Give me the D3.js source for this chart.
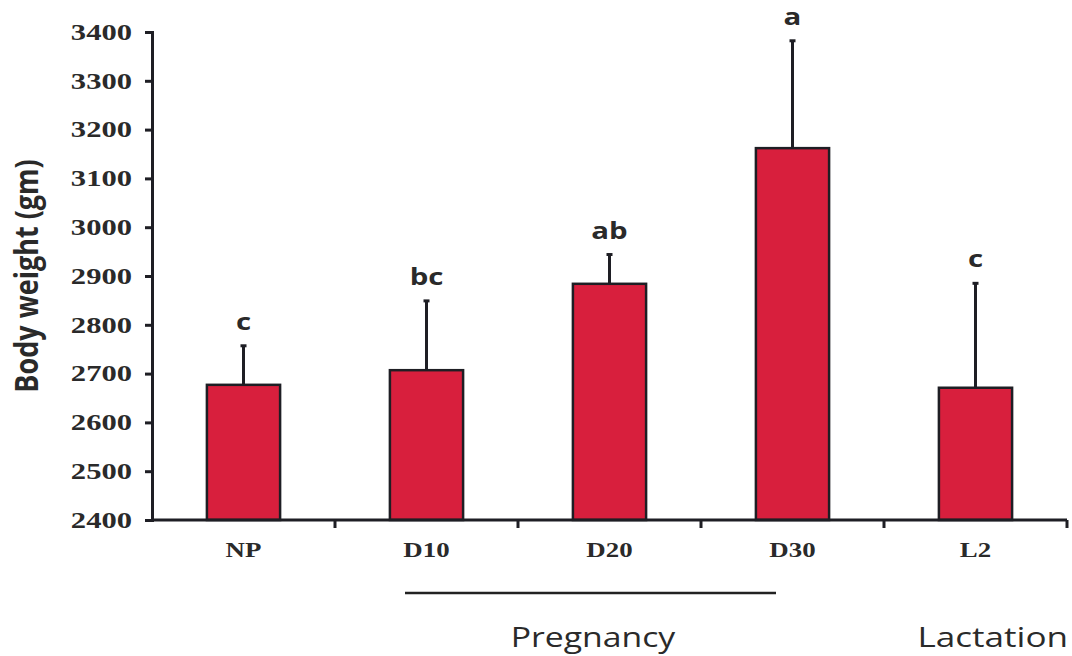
<!DOCTYPE html>
<html>
<head>
<meta charset="utf-8">
<script src="https://cdn.jsdelivr.net/npm/d3@7"></script>
<style>
  body { margin: 0; background: #fff; }
  svg { display: block; }
</style>
</head>
<body>
<svg id="chart" width="1072" height="656"></svg>
<script>
// data
const groups = ["NP", "D10", "D20", "D30", "L2"];
const means = [2677, 2707, 2884, 3162, 2671];
const errors = [80, 142, 60, 220, 214];
const letters = ["c", "bc", "ab", "a", "c"];
const yTicks = [2400, 2500, 2600, 2700, 2800, 2900, 3000, 3100, 3200, 3300, 3400];

const svg = d3.select("#chart");
const plotLeft = 152, plotRight = 1067, plotTop = 32, plotBottom = 520;
const stretch = 1.28; // the source figure is a bit wider than tall

const x = d3.scaleBand()
  .domain(groups)
  .range([plotLeft, plotRight])
  .paddingInner(0.6)
  .paddingOuter(0.3);

const y = d3.scaleLinear()
  .domain([2400, 3400])
  .range([plotBottom, plotTop]);

const ink = "#1e1e24";

// bars
svg.append("g").selectAll("rect")
  .data(groups)
  .enter()
  .append("rect")
  .attr("x", d => x(d))
  .attr("y", (d, i) => y(means[i]))
  .attr("width", x.bandwidth())
  .attr("height", (d, i) => plotBottom - y(means[i]))
  .style("fill", "#d81f3d")
  .style("stroke", ink)
  .style("stroke-width", 2.5);

// error bars (upper only)
const err = svg.append("g");
err.selectAll("line.err")
  .data(groups)
  .enter()
  .append("line")
  .attr("class", "err")
  .attr("x1", d => x(d) + x.bandwidth() / 2)
  .attr("x2", d => x(d) + x.bandwidth() / 2)
  .attr("y1", (d, i) => y(means[i]))
  .attr("y2", (d, i) => y(means[i] + errors[i]))
  .style("stroke", ink)
  .style("stroke-width", 3);
err.selectAll("line.cap")
  .data(groups)
  .enter()
  .append("line")
  .attr("class", "cap")
  .attr("x1", d => x(d) + x.bandwidth() / 2 - 3)
  .attr("x2", d => x(d) + x.bandwidth() / 2 + 3)
  .attr("y1", (d, i) => y(means[i] + errors[i]))
  .attr("y2", (d, i) => y(means[i] + errors[i]))
  .style("stroke", ink)
  .style("stroke-width", 3);

// significance letters
svg.append("g").selectAll("text")
  .data(groups)
  .enter()
  .append("text")
  .text((d, i) => letters[i])
  .attr("transform", (d, i) => "translate(" + (x(d) + x.bandwidth() / 2) + "," + (y(means[i] + errors[i]) - 16) + ") scale(" + stretch + ",1)")
  .attr("text-anchor", "middle")
  .style("font-family", "'Open Sans', sans-serif")
  .style("font-weight", "bold")
  .style("font-size", "23px")
  .style("fill", "#2a2a2a");

// y axis
const yAxis = svg.append("g")
  .attr("transform", "translate(" + plotLeft + ",0)")
  .call(d3.axisLeft(y).tickValues(yTicks).tickSize(7).tickPadding(12).tickFormat(d3.format("d")));
yAxis.selectAll("text")
  .attr("transform", "scale(1.33,1)")
  .attr("x", -20 / 1.33)
  .style("font-family", "'Liberation Serif', serif")
  .style("font-weight", "bold")
  .style("font-size", "23px")
  .style("fill", "#2a2a2a");
yAxis.select(".domain").style("stroke", ink).style("stroke-width", 3);
yAxis.selectAll(".tick line").style("stroke", ink).style("stroke-width", 3);

// x axis: ticks at category boundaries
const bounds = d3.range(groups.length + 1).map(i => plotLeft + i * (plotRight - plotLeft) / groups.length);
const xAxis = svg.append("g");
xAxis.append("line")
  .attr("x1", plotLeft).attr("x2", plotRight)
  .attr("y1", plotBottom).attr("y2", plotBottom);
xAxis.selectAll("line.tick")
  .data(bounds.slice(1))
  .enter()
  .append("line")
  .attr("class", "tick")
  .attr("x1", d => d).attr("x2", d => d)
  .attr("y1", plotBottom).attr("y2", plotBottom + 8);
xAxis.selectAll("line")
  .style("stroke", ink)
  .style("stroke-width", 3);
xAxis.selectAll("text")
  .data(groups)
  .enter()
  .append("text")
  .text(d => d)
  .attr("transform", d => "translate(" + (x(d) + x.bandwidth() / 2) + ",557) scale(" + stretch + ",1)")
  .attr("text-anchor", "middle")
  .style("font-family", "'Liberation Serif', serif")
  .style("font-weight", "bold")
  .style("font-size", "21px")
  .style("fill", "#2a2a2a");

// y title
svg.append("text")
  .text("Body weight (gm)")
  .attr("transform", "translate(38,276) rotate(-90) scale(1,1.2)")
  .attr("text-anchor", "middle")
  .style("font-family", "'Open Sans', sans-serif")
  .style("font-weight", "bold")
  .style("font-size", "27px")
  .style("fill", "#2a2a2a");

// phase annotations
svg.append("line")
  .attr("x1", 405).attr("x2", 776)
  .attr("y1", 593).attr("y2", 593)
  .style("stroke", "#222")
  .style("stroke-width", 2.5);
svg.append("text")
  .text("Pregnancy")
  .attr("transform", "translate(593,647) scale(1.25,1)")
  .attr("text-anchor", "middle")
  .style("font-family", "'Open Sans', sans-serif")
  .style("font-size", "27px")
  .style("fill", "#2a2a2a");
svg.append("text")
  .text("Lactation")
  .attr("transform", "translate(1068,647) scale(1.3,1)")
  .attr("text-anchor", "end")
  .style("font-family", "'Open Sans', sans-serif")
  .style("font-size", "27px")
  .style("fill", "#2a2a2a");
</script>
</body>
</html>
